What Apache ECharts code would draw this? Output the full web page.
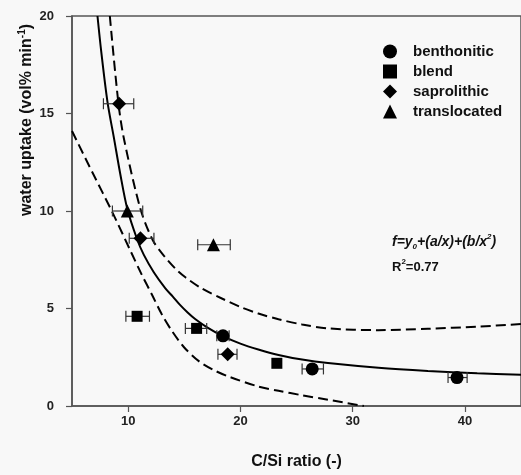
<!DOCTYPE html>
<html>
<head>
<meta charset="utf-8">
<script src="https://cdn.jsdelivr.net/npm/echarts@6/dist/echarts.min.js"></script>
<style>
html,body{margin:0;padding:0;background:#f8f8f8;}
#chart{width:521px;height:475px;}
</style>
</head>
<body>
<div id="chart"></div>
<script>
// ---- data ----
// points: [x, y]; error bars: [xLow, xHigh]
const benthonitic = [[18.45, 3.6], [26.4, 1.9], [39.3, 1.46]];
const benthoniticErr = [[17.9, 19.0], [25.5, 27.4], [38.5, 40.2]];
const blend = [[10.8, 4.6], [16.1, 3.98], [23.25, 2.19]];
const blendErr = [[9.8, 11.9], [15.1, 17.0], [23.25, 23.25]];
const saprolithic = [[9.2, 15.5], [11.1, 8.6], [18.87, 2.65]];
const saprolithicErr = [[7.8, 10.5], [10.1, 12.3], [18.0, 19.7]];
const translocated = [[9.93, 10.0], [17.6, 8.27]];
const translocatedErr = [[8.6, 11.3], [16.2, 19.1]];

// fitted curve and prediction bands
const fitCurve = [[7.27, 20], [7.6, 18.2], [8.16, 15.6], [8.75, 13.7], [9.3, 11.9], [9.93, 10.1], [10.8, 8.55],
  [11.4, 7.75], [12.3, 6.85], [13.3, 6.05], [14.0, 5.6], [14.6, 5.2], [15.3, 4.8], [16.0, 4.45],
  [17.0, 4.05], [18.4, 3.6], [20.0, 3.2], [21.6, 2.9], [23.4, 2.62], [25.5, 2.38], [27.8, 2.2],
  [32.3, 1.96], [36.7, 1.8], [41.1, 1.68], [45, 1.6]];
const upperBand = [[8.37, 20], [9.14, 15.5], [9.64, 13.67], [11.1, 10.1], [12.2, 8.5], [13.2, 7.7],
  [14.2, 7.05], [15.1, 6.6], [16.5, 6.05], [18.4, 5.5], [20.0, 5.08], [21.6, 4.74], [23.4, 4.45],
  [25.5, 4.18], [27.8, 3.98], [32.3, 3.89], [36.7, 3.96], [41.1, 4.07], [45, 4.2]];
const lowerBand = [[5, 14.1], [6.8, 12.0], [8.6, 9.93], [10.2, 7.97], [11.2, 6.75], [12.15, 5.68],
  [13.0, 4.7], [13.9, 3.85], [15.0, 3.0], [16.3, 2.3], [17.6, 1.85], [19.0, 1.5], [21.6, 1.0],
  [23.4, 0.78], [25.5, 0.55], [27.8, 0.32], [31, 0]];

const xTicks = [10, 20, 30, 40];
const yTicks = [0, 5, 10, 15, 20];
const seriesNames = ['benthonitic', 'blend', 'saprolithic', 'translocated'];

const FONT = '"Liberation Sans", Arial, sans-serif';

function errData(pts, errs) {
  return pts.map((p, i) => [p[0], p[1], errs[i][0], errs[i][1]]);
}

function errRender(params, api) {
  const y = api.value(1);
  const lo = api.coord([api.value(2), y]);
  const hi = api.coord([api.value(3), y]);
  if (Math.abs(hi[0] - lo[0]) < 1) return null;
  const cap = 5.5;
  const st = { stroke: '#333', lineWidth: 1.2 };
  return {
    type: 'group',
    children: [
      { type: 'line', shape: { x1: lo[0], y1: lo[1], x2: hi[0], y2: hi[1] }, style: st },
      { type: 'line', shape: { x1: lo[0], y1: lo[1] - cap, x2: lo[0], y2: lo[1] + cap }, style: st },
      { type: 'line', shape: { x1: hi[0], y1: hi[1] - cap, x2: hi[0], y2: hi[1] + cap }, style: st }
    ]
  };
}

const chart = echarts.init(document.getElementById('chart'), null, { renderer: 'canvas' });

const axisLine = { show: true, lineStyle: { color: '#555', width: 1.5 } };
const tickLabel = { color: '#222', fontFamily: FONT, fontWeight: 'bold', fontSize: 13 };

const scatterDefs = [
  { name: 'benthonitic', data: benthonitic, err: benthoniticErr, symbol: 'circle', size: 13 },
  { name: 'blend', data: blend, err: blendErr, symbol: 'rect', size: 11 },
  { name: 'saprolithic', data: saprolithic, err: saprolithicErr, symbol: 'diamond', size: 14 },
  { name: 'translocated', data: translocated, err: translocatedErr, symbol: 'triangle', size: 13 }
];

const series = [];
scatterDefs.forEach(d => {
  series.push({
    type: 'custom', name: d.name + ' err', renderItem: errRender,
    data: errData(d.data, d.err), z: 3, silent: true,
    encode: { x: 0, y: 1 }
  });
});
const lineCommon = { type: 'line', smooth: 0.3, symbol: 'none', z: 2, clip: true, silent: true };
series.push(Object.assign({ name: 'fit', data: fitCurve, lineStyle: { color: '#000', width: 2 } }, lineCommon));
series.push(Object.assign({ name: 'upper', data: upperBand, lineStyle: { color: '#000', width: 2, type: [10, 5] } }, lineCommon));
series.push(Object.assign({ name: 'lower', data: lowerBand, lineStyle: { color: '#000', width: 2, type: [10, 5] } }, lineCommon));
scatterDefs.forEach(d => {
  series.push({
    type: 'scatter', name: d.name, data: d.data, symbol: d.symbol, symbolSize: d.size,
    itemStyle: { color: '#000', opacity: 1 }, z: 5
  });
});

const option = {
  backgroundColor: '#f8f8f8',
  animation: false,
  grid: {
    left: 72, top: 16, right: -2, bottom: 67,
    show: true, borderColor: '#555', borderWidth: 1.5, backgroundColor: 'transparent'
  },
  xAxis: {
    type: 'value', min: 5, max: 45, interval: 5,
    axisLine: axisLine,
    axisTick: { show: true, length: 6, lineStyle: { color: '#555', width: 1.2 },
      customValues: xTicks },
    axisLabel: Object.assign({ margin: 9, customValues: xTicks }, tickLabel),
    splitLine: { show: false },
    name: 'C/Si ratio (-)', nameLocation: 'middle', nameGap: 48,
    nameTextStyle: { color: '#111', fontFamily: FONT, fontWeight: 'bold', fontSize: 16 }
  },
  yAxis: {
    type: 'value', min: 0, max: 20, interval: 5,
    axisLine: axisLine,
    axisTick: { show: true, length: 6, lineStyle: { color: '#555', width: 1.2 },
      customValues: yTicks },
    axisLabel: Object.assign({ margin: 18, customValues: yTicks }, tickLabel),
    splitLine: { show: false }
  },
  legend: {
    data: seriesNames,
    orient: 'vertical',
    left: 378, top: 39,
    itemWidth: 14, itemHeight: 14, itemGap: 5,
    symbolKeepAspect: true,
    textStyle: { color: '#111', fontFamily: FONT, fontWeight: 'bold', fontSize: 15, padding: [0, 0, 0, 11] }
  },
  graphic: [
    {
      type: 'text', x: 27, y: 120, rotation: Math.PI / 2,
      style: {
        text: '{m|water uptake (vol% min}{s|-1}{m|)}',
        align: 'center', verticalAlign: 'middle',
        rich: {
          m: { fontFamily: FONT, fontWeight: 'bold', fontSize: 16, fill: '#111', lineHeight: 20 },
          s: { fontFamily: FONT, fontWeight: 'bold', fontSize: 10, fill: '#111', verticalAlign: 'top', lineHeight: 20, padding: [0, 0, 6, 0] }
        }
      }
    },
    {
      type: 'text', x: 392, y: 242,
      style: {
        text: '{i|f=y}{b|0}{i|+(a/x)+(b/x}{t|2}{i|)}',
        align: 'left', verticalAlign: 'middle',
        rich: {
          i: { fontFamily: FONT, fontWeight: 'bold', fontStyle: 'italic', fontSize: 14, fill: '#111', lineHeight: 18 },
          b: { fontFamily: FONT, fontWeight: 'bold', fontStyle: 'italic', fontSize: 8, fill: '#111', verticalAlign: 'bottom', lineHeight: 18, padding: [6, 0, 0, 0] },
          t: { fontFamily: FONT, fontWeight: 'bold', fontStyle: 'italic', fontSize: 8, fill: '#111', verticalAlign: 'top', lineHeight: 18, padding: [0, 0, 6, 0] }
        }
      }
    },
    {
      type: 'text', x: 392, y: 267,
      style: {
        text: '{m|R}{t|2}{m|=0.77}',
        align: 'left', verticalAlign: 'middle',
        rich: {
          m: { fontFamily: FONT, fontWeight: 'bold', fontSize: 13, fill: '#111', lineHeight: 18 },
          t: { fontFamily: FONT, fontWeight: 'bold', fontSize: 8, fill: '#111', verticalAlign: 'top', lineHeight: 18, padding: [0, 0, 6, 0] }
        }
      }
    }
  ],
  series: series
};
chart.setOption(option);
</script>
</body>
</html>
